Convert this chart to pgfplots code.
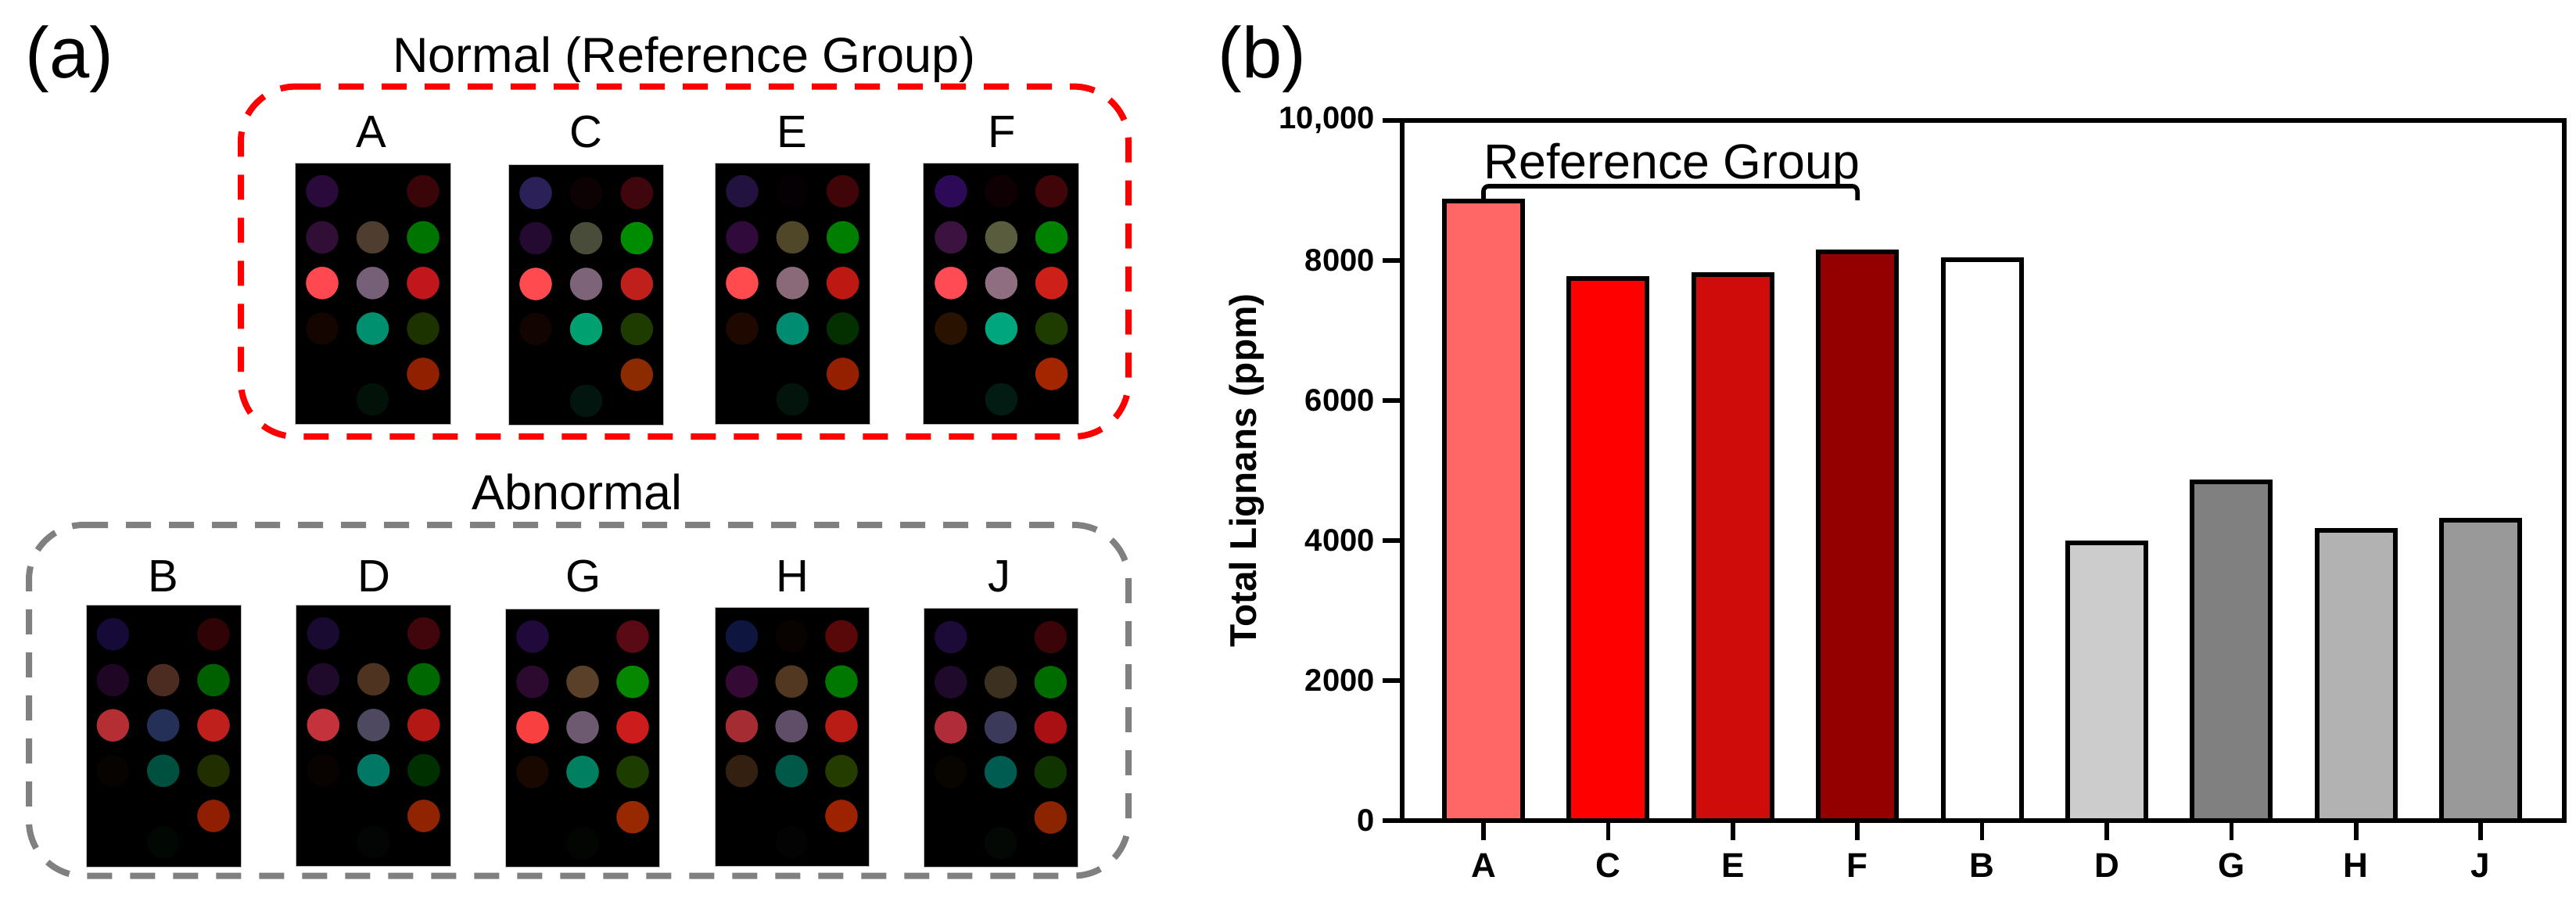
\documentclass[border=0pt]{standalone}
\usepackage{fontspec}
\setmainfont{Liberation Sans}
\usepackage{pgfplots}
\pgfplotsset{compat=1.18}

% 1 px of the reference = 0.3pt
\newcommand{\fs}[1]{\fontsize{#1}{#1}\selectfont}

\newcommand{\plate}[4]{\addplot[fill=black,draw=black!25,line width=0.3pt] coordinates {(#1,#3)(#2,#3)(#2,#4)(#1,#4)} --cycle;}
\newcommand{\bigtxt}[3]{\node[anchor=base,inner sep=0pt] at (axis cs:#1,#2) {\fs{18.9}#3};}
% one spot of a plate: x, y in reference pixels (y downwards), colour
\newcommand{\spot}[3]{\xglobal\definecolor{c#3}{HTML}{#3}%
  \addplot[only marks,mark=*,mark size=6.45pt,mark options={fill=c#3,draw=none}] coordinates {(#1,#2)};}

\begin{document}
\begin{tikzpicture}
\useasboundingbox (0,0) rectangle (988.2pt,348.3pt);

% panel (a): whole canvas in pixel units
\begin{axis}[
    at={(0pt,0pt)},anchor=south west,
    scale only axis,width=988.2pt,height=348.3pt,
    xmin=0,xmax=3294,ymin=0,ymax=1161,y dir=reverse,
    hide axis,clip=false,
]
\plate{377.5}{576}{208}{542}
\plate{650.5}{848.7}{210}{543}
\plate{914.7}{1112.5}{208}{542}
\plate{1180}{1379.5}{208}{542}
\plate{110}{308}{773}{1108}
\plate{378.6}{576.5}{773}{1107}
\plate{646.4}{843}{778}{1108}
\plate{914}{1111}{776}{1107}
\plate{1181.6}{1378.6}{777.5}{1108}

% A
\spot{412.0}{244.5}{2A0A3A}\spot{541.0}{244.5}{3A0508}
\spot{412.0}{303.4}{300E36}\spot{476.5}{303.4}{4F3E30}\spot{541.0}{303.4}{007400}
\spot{412.0}{361.8}{FF4850}\spot{476.5}{361.8}{756078}\spot{541.0}{361.8}{C0161C}
\spot{412.0}{420.0}{140500}\spot{476.5}{420.0}{009070}\spot{541.0}{420.0}{1C3300}
\spot{541.0}{478.0}{902000}\spot{476.5}{510.5}{021208}
% C
\spot{685.0}{246.8}{2B2058}\spot{749.5}{246.8}{0C0204}\spot{814.3}{246.8}{40060E}
\spot{685.0}{304.5}{240A30}\spot{749.5}{304.5}{4A4C3A}\spot{814.3}{304.5}{008C00}
\spot{685.0}{363.0}{FF4A50}\spot{749.5}{363.0}{7E6478}\spot{814.3}{363.0}{C0201C}
\spot{685.0}{420.6}{120400}\spot{749.5}{420.6}{00A070}\spot{814.3}{420.6}{1E3C00}
\spot{814.3}{479.0}{8C2A00}\spot{749.5}{512.4}{03150F}
% E
\spot{949.0}{244.5}{22123F}\spot{1013.4}{244.5}{050003}\spot{1077.7}{244.5}{400508}
\spot{949.0}{303.4}{300A3A}\spot{1013.4}{303.4}{504628}\spot{1077.7}{303.4}{007E00}
\spot{949.0}{361.8}{FF4A4E}\spot{1013.4}{361.8}{8A6A78}\spot{1077.7}{361.8}{BE1812}
\spot{949.0}{420.0}{1E0800}\spot{1013.4}{420.0}{008C70}\spot{1077.7}{420.0}{043000}
\spot{1077.7}{478.0}{942000}\spot{1013.4}{510.5}{02140C}
% F
\spot{1216.0}{244.5}{2C0A58}\spot{1280.4}{244.5}{0F0003}\spot{1344.6}{244.5}{400508}
\spot{1216.0}{303.4}{3C1240}\spot{1280.4}{303.4}{5A5C3E}\spot{1344.6}{303.4}{008200}
\spot{1216.0}{361.8}{FF4C54}\spot{1280.4}{361.8}{8E6E80}\spot{1344.6}{361.8}{CC2018}
\spot{1216.0}{420.0}{2A1200}\spot{1280.4}{420.0}{00A67E}\spot{1344.6}{420.0}{1E3C00}
\spot{1344.6}{478.0}{A42600}\spot{1280.4}{510.5}{021C14}
% B
\spot{144.4}{810.8}{150A38}\spot{273.0}{810.8}{300406}
\spot{144.4}{869.4}{1E0624}\spot{208.7}{869.4}{4C2C20}\spot{273.0}{869.4}{006000}
\spot{144.4}{927.2}{B42E34}\spot{208.7}{927.2}{243058}\spot{273.0}{927.2}{C0201C}
\spot{144.4}{985.3}{070301}\spot{208.7}{985.3}{005040}\spot{273.0}{985.3}{202E00}
\spot{273.0}{1043.0}{901E00}\spot{208.7}{1076.5}{010804}
% D
\spot{413.3}{809.7}{180A30}\spot{541.8}{809.7}{40060C}
\spot{413.3}{868.3}{200A2C}\spot{477.6}{868.3}{4E3420}\spot{541.8}{868.3}{006800}
\spot{413.3}{926.8}{C4323C}\spot{477.6}{926.8}{4E4860}\spot{541.8}{926.8}{B41814}
\spot{413.3}{984.6}{080300}\spot{477.6}{984.6}{007866}\spot{541.8}{984.6}{003000}
\spot{541.8}{1043.0}{902400}\spot{477.6}{1076.5}{020503}
% G
\spot{681.0}{813.8}{200A3C}\spot{809.0}{813.8}{5A0A14}
\spot{681.0}{871.6}{2C0A30}\spot{745.0}{871.6}{5A4028}\spot{809.0}{871.6}{058800}
\spot{681.0}{929.8}{F84040}\spot{745.0}{929.8}{6E5A70}\spot{809.0}{929.8}{CC1C1C}
\spot{681.0}{986.8}{180800}\spot{745.0}{986.8}{008060}\spot{809.0}{986.8}{1C3C00}
\spot{809.0}{1044.6}{982800}\spot{745.0}{1078.0}{030503}
% H
\spot{948.5}{813.4}{0E1640}\spot{1012.2}{813.4}{080200}\spot{1076.0}{813.4}{580808}
\spot{948.5}{871.2}{340A34}\spot{1012.2}{871.2}{523820}\spot{1076.0}{871.2}{007800}
\spot{948.5}{928.3}{A42C32}\spot{1012.2}{928.3}{604E68}\spot{1076.0}{928.3}{B81C14}
\spot{948.5}{985.7}{342010}\spot{1012.2}{985.7}{005848}\spot{1076.0}{985.7}{243C00}
\spot{1076.0}{1043.0}{9C2200}\spot{1012.2}{1076.5}{030303}
% J
\spot{1215.8}{814.5}{1C0A38}\spot{1343.4}{814.5}{3A0408}
\spot{1215.8}{872.0}{200A2C}\spot{1279.6}{872.0}{3C3020}\spot{1343.4}{872.0}{006C00}
\spot{1215.8}{929.8}{B02C38}\spot{1279.6}{929.8}{3C3A5A}\spot{1343.4}{929.8}{A81014}
\spot{1215.8}{987.0}{080400}\spot{1279.6}{987.0}{005C50}\spot{1343.4}{987.0}{103400}
\spot{1343.4}{1045.0}{8C2400}\spot{1279.6}{1077.6}{030805}

\draw[red,line width=2.4pt,dash pattern=on 9.6pt off 6.9pt,rounded corners=21pt]
    (axis cs:378,110.6) -- (axis cs:1443,110.6) -- (axis cs:1443,558) -- (axis cs:308,558) -- (axis cs:308,110.6) -- (axis cs:378,110.6);
\draw[black!50,line width=2.4pt,dash pattern=on 9.6pt off 6.9pt,rounded corners=21pt]
    (axis cs:106,671) -- (axis cs:1443,671) -- (axis cs:1443,1119.5) -- (axis cs:37,1119.5) -- (axis cs:37,671) -- (axis cs:106,671);

\node[anchor=base west,inner sep=0pt] at (axis cs:32,99) {\fs{27.6}(a)};
\node[anchor=base west,inner sep=0pt] at (axis cs:1557,99) {\fs{27.6}(b)};
\bigtxt{875}{92}{Normal (Reference Group)}
\bigtxt{738}{651}{Abnormal}
\node[anchor=base,inner sep=0pt] at (axis cs:475,188) {\fs{17.4}A};
\node[anchor=base,inner sep=0pt] at (axis cs:749,188) {\fs{17.4}C};
\node[anchor=base,inner sep=0pt] at (axis cs:1013,188) {\fs{17.4}E};
\node[anchor=base,inner sep=0pt] at (axis cs:1281,188) {\fs{17.4}F};
\node[anchor=base,inner sep=0pt] at (axis cs:209,756) {\fs{17.4}B};
\node[anchor=base,inner sep=0pt] at (axis cs:478,756) {\fs{17.4}D};
\node[anchor=base,inner sep=0pt] at (axis cs:746,756) {\fs{17.4}G};
\node[anchor=base,inner sep=0pt] at (axis cs:1013,756) {\fs{17.4}H};
\node[anchor=base,inner sep=0pt] at (axis cs:1278,756) {\fs{17.4}J};
\end{axis}

% panel (b)
\begin{axis}[
    at={(537.9pt,33.6pt)},anchor=south west,
    scale only axis,width=445.8pt,height=268.5pt,
    ybar,bar width=30pt,bar shift=0pt,
    xmin=-0.652,xmax=8.67,ymin=0,ymax=10000,
    xtick={0,1,2,3,4,5,6,7,8},
    xticklabels={A,C,E,F,B,D,G,H,J},
    ytick={0,2000,4000,6000,8000,10000},
    yticklabels={0,2000,4000,6000,8000,{10,000}},
    scaled y ticks=false,
    xtick pos=bottom,ytick pos=left,
    tick align=outside,major tick length=7.5pt,
    tick style={black,line width=1.7pt},
    axis line style={line width=1.7pt},
    axis on top,
    xticklabel style={font=\fs{13.2}\bfseries,yshift=-1.5pt},
    yticklabel style={font=\fs{12}\bfseries,xshift=0.5pt},
    ylabel={\fs{14.3}\bfseries Total Lignans (ppm)},
    y label style={at={(axis description cs:-0.1258,0.5)},anchor=base,rotate=0},
    clip=false,
    every axis plot/.append style={draw=black,line width=1.8pt},
]
\addplot[fill=red!60!white] coordinates {(0,8849)};
\addplot[fill=red] coordinates {(1,7743)};
\addplot[fill={rgb,255:red,208;green,12;blue,10}] coordinates {(2,7799)};
\addplot[fill={rgb,255:red,148;green,0;blue,0}] coordinates {(3,8120)};
\addplot[fill=white] coordinates {(4,8010)};
\addplot[fill=black!20] coordinates {(5,3966)};
\addplot[fill=black!50] coordinates {(6,4838)};
\addplot[fill=black!30] coordinates {(7,4145)};
\addplot[fill=black!40] coordinates {(8,4296)};
\node[anchor=base,inner sep=0pt] at (axis cs:1.51,9173) {\fs{18.8}Reference Group};
\draw[black,line width=1.7pt,rounded corners=2pt]
    (axis cs:0,8849) -- (axis cs:0,9062) -- (axis cs:3,9062) -- (axis cs:3,8860);
\end{axis}
\end{tikzpicture}
\end{document}
